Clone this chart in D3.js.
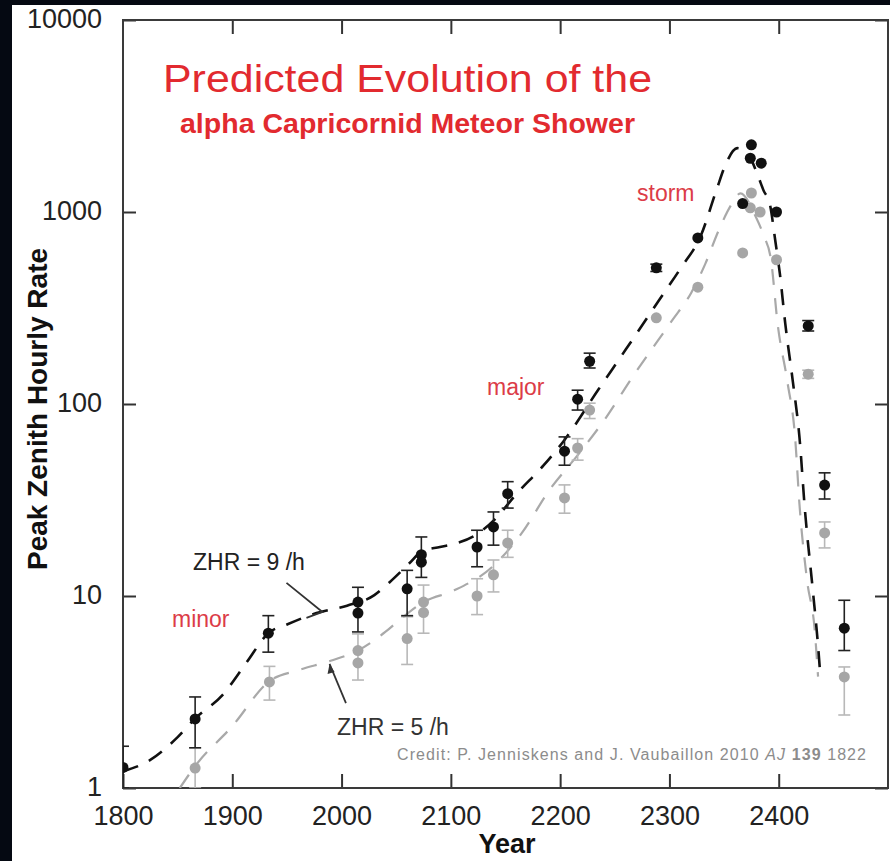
<!DOCTYPE html>
<html>
<head>
<meta charset="utf-8">
<script src="https://cdn.jsdelivr.net/npm/d3@7/dist/d3.min.js"></script>
<style>
  body { margin: 0; background: #fff; }
  svg { display: block; font-family: "Liberation Sans", Arial, sans-serif; }
</style>
</head>
<body>
<svg id="chart" width="890" height="861"></svg>
<script>
// tick values
var xTicks = [1800, 1900, 2000, 2100, 2200, 2300, 2400];
var yTicks = [1, 10, 100, 1000, 10000];

// ZHR = 9/h model points (black)
var blackYear = [1800, 1866, 1933, 2015, 2015, 2060, 2073, 2073, 2124, 2139, 2152, 2204, 2216, 2227, 2288, 2326, 2375, 2374, 2384, 2367, 2398, 2427, 2442, 2460];
var blackZHR  = [1.28, 2.29, 6.4, 9.3, 8.15, 10.9, 16.4, 15.0, 18.0, 22.9, 34.1, 56.8, 106, 167, 512, 733, 2237, 1905, 1795, 1106, 1000, 255, 37.8, 6.8];
var blackLo   = [1.0, 1.62, 5.1, 6.5, null, 7.9, 12.5, null, 14.2, 18.4, 28.7, 48, 93, 154, 490, null, null, null, null, null, null, 240, 32, 5.2];
var blackHi   = [1.65, 2.98, 7.9, 11.1, null, 13.6, 20.3, null, 22.0, 27.4, 39.4, 67.4, 118, 184, 535, null, null, null, null, null, null, 272, 43.8, 9.5];

// ZHR = 5/h model points (gray)
var grayYear = [1866, 1934, 2015, 2015, 2060, 2075, 2075, 2124, 2139, 2152, 2204, 2216, 2227, 2288, 2326, 2375, 2374, 2383, 2367, 2398, 2427, 2442, 2460];
var grayZHR  = [1.27, 3.57, 5.2, 4.48, 6.0, 9.3, 8.2, 10.0, 12.9, 18.9, 32.4, 59, 93, 281, 406, 1256, 1051, 1000, 612, 564, 143, 21.3, 3.79];
var grayLo   = [1.0, 2.87, null, 3.65, 4.4, 6.4, null, 8.0, 10.5, 15.9, 27, 51, 84, null, null, null, null, null, null, null, 136, 17.8, 2.4];
var grayHi   = [1.62, 4.3, null, 6.35, 7.8, 11.4, null, 12.3, 15.4, 22, 37.9, 66, 101, null, null, null, null, null, null, null, 150, 24.3, 4.27];

// dashed trend curves
var curve9Year = [1800, 1825, 1850, 1866, 1891, 1913, 1933, 1950, 1977, 2005, 2030, 2044, 2062, 2073, 2090, 2105, 2124, 2140, 2160, 2185, 2204, 2235, 2260, 2290, 2310, 2329, 2343, 2352, 2362, 2372, 2380, 2386, 2392, 2397, 2401, 2406, 2413, 2419, 2424, 2431, 2436, 2438];
var curve9ZHR  = [1.22, 1.4, 1.84, 2.3, 3.05, 4.5, 6.4, 7.1, 8.15, 8.9, 10.1, 11.8, 14.8, 17, 18, 18.8, 21, 25, 34, 48, 65, 119, 192, 344, 507, 760, 1300, 1800, 2150, 2000, 1600, 1300, 1090, 700, 480, 262, 130, 67, 28, 11, 5.5, 3.9];
var curve5Year = [1852, 1866, 1900, 1934, 1960, 1990, 2015, 2040, 2053, 2075, 2103, 2138, 2165, 2190, 2217, 2242, 2265, 2302, 2320, 2333, 2345, 2357, 2365, 2379, 2386, 2393, 2399, 2408, 2415, 2419, 2426, 2433, 2436];
var curve5ZHR  = [1.0, 1.3, 2.1, 3.6, 4.1, 4.6, 5.2, 6.5, 7.5, 9.3, 10.7, 14.2, 21.3, 35.5, 55, 85, 135, 270, 380, 540, 800, 1100, 1250, 944, 760, 560, 262, 130, 67, 30, 12, 6.6, 3.8];

// annotation arrows [fromYear, fromZHR, toYear, toZHR]
var arrow9 = [1949.6, 11.7, 1982.5, 8.26];
var arrow5 = [2004, 2.77, 1989, 4.43];

var svg = d3.select("#chart");
var margin = {top: 20, left: 123},
    width = 765,
    height = 768;

var x = d3.scaleLinear().domain([1800, 2500]).range([0, width]);
var y = d3.scaleLog().domain([1, 10000]).range([height, 0]);

svg.append("rect").attr("width", 890).attr("height", 861).attr("fill", "#fff");

var g = svg.append("g")
    .attr("transform", "translate(" + margin.left + "," + margin.top + ")");

g.append("clipPath").attr("id", "clip")
  .append("rect").attr("width", width).attr("height", height);

// axes, ticks point inward
var fontAxis = "27px";
var xb = g.append("g").attr("transform", "translate(0," + height + ")")
    .call(d3.axisBottom(x).tickValues(xTicks).tickSize(-14).tickPadding(18).tickFormat(d3.format("d")));
var yl = g.append("g")
    .call(d3.axisLeft(y).tickValues(yTicks).tickSize(-13).tickPadding(21).tickFormat(d3.format("d")));
g.append("g").call(d3.axisTop(x).tickValues(xTicks.slice(1)).tickSize(-14).tickFormat(""));
g.append("g").attr("transform", "translate(" + width + ",0)")
    .call(d3.axisRight(y).tickValues(yTicks).tickSize(-13).tickFormat(""));

g.selectAll(".domain").remove();
g.selectAll(".tick line").attr("stroke", "#333").attr("stroke-width", 2);
g.selectAll(".tick text").attr("font-size", fontAxis).attr("fill", "#222")
    .attr("font-family", "'Liberation Sans', Arial, sans-serif");
yl.selectAll(".tick text").attr("dy", "0.27em");

g.append("rect").attr("width", width).attr("height", height)
    .attr("fill", "none").attr("stroke", "#3a3a3a").attr("stroke-width", 2);

var plot = g.append("g").attr("clip-path", "url(#clip)");

// trend lines
var line = d3.line()
    .x(function(d) { return x(d[0]); })
    .y(function(d) { return y(d[1]); })
    .curve(d3.curveMonotoneX);

plot.append("path")
    .datum(d3.zip(curve5Year, curve5ZHR))
    .attr("d", line).attr("fill", "none")
    .attr("stroke", "#a9a9a9").attr("stroke-width", 2.2)
    .attr("stroke-dasharray", "16,13");

plot.append("path")
    .datum(d3.zip(curve9Year, curve9ZHR))
    .attr("d", line).attr("fill", "none")
    .attr("stroke", "#111").attr("stroke-width", 2.6)
    .attr("stroke-dasharray", "16,12");

// error bars + dots
function drawSeries(years, vals, lo, hi, color, barColor) {
  var data = years.map(function(yr, i) {
    return {year: yr, v: vals[i], lo: lo[i], hi: hi[i]};
  });
  var withErr = data.filter(function(d) { return d.lo != null; });
  var eb = plot.append("g").attr("stroke", barColor).attr("stroke-width", 1.6);
  eb.selectAll(".v").data(withErr).enter().append("line")
      .attr("x1", function(d) { return x(d.year); })
      .attr("x2", function(d) { return x(d.year); })
      .attr("y1", function(d) { return y(d.lo); })
      .attr("y2", function(d) { return y(d.hi); });
  ["lo", "hi"].forEach(function(k) {
    eb.selectAll(".c" + k).data(withErr).enter().append("line")
        .attr("x1", function(d) { return x(d.year) - 6; })
        .attr("x2", function(d) { return x(d.year) + 6; })
        .attr("y1", function(d) { return y(d[k]); })
        .attr("y2", function(d) { return y(d[k]); });
  });
  plot.append("g").selectAll("circle").data(data).enter().append("circle")
      .attr("cx", function(d) { return x(d.year); })
      .attr("cy", function(d) { return y(d.v); })
      .attr("r", 5.5)
      .attr("fill", color);
}
drawSeries(grayYear, grayZHR, grayLo, grayHi, "#a6a6a6", "#b8b8b8");
drawSeries(blackYear, blackZHR, blackLo, blackHi, "#111", "#222");

// annotation arrows
var ann = g.append("g").attr("stroke", "#333").attr("stroke-width", 1.8).attr("fill", "none");
ann.append("path").attr("d", function() {
  var x0 = x(arrow9[0]), y0 = y(arrow9[1]), x1 = x(arrow9[2]), y1 = y(arrow9[3]);
  return "M" + x0 + "," + y0 + "L" + x1 + "," + y1 + "L" + (x1 - 16) + "," + (y1 + 6);
});
ann.append("line")
    .attr("x1", x(arrow5[0])).attr("y1", y(arrow5[1]))
    .attr("x2", x(arrow5[2])).attr("y2", y(arrow5[3]));
var ax = x(arrow5[2]), ay = y(arrow5[3]);
g.append("path")
    .attr("d", "M" + ax + "," + ay + "L" + (ax - 2) + "," + (ay + 10) + "L" + (ax + 5) + "," + (ay + 8) + "Z")
    .attr("fill", "#333");

// texts
svg.append("text").attr("x", 163).attr("y", 92)
    .attr("font-size", "39px").attr("fill", "#e22a2f")
    .attr("textLength", 489).attr("lengthAdjust", "spacingAndGlyphs")
    .text("Predicted Evolution of the");
svg.append("text").attr("x", 180).attr("y", 133)
    .attr("font-size", "27px").attr("font-weight", "bold").attr("fill", "#e22a2f")
    .attr("textLength", 455).attr("lengthAdjust", "spacingAndGlyphs")
    .text("alpha Capricornid Meteor Shower");

var redLabels = [["storm", 637, 201], ["major", 487, 395], ["minor", 172, 627]];
redLabels.forEach(function(l) {
  svg.append("text").attr("x", l[1]).attr("y", l[2])
      .attr("font-size", "23px").attr("fill", "#dc3c48").text(l[0]);
});

svg.append("text").attr("x", 193).attr("y", 570)
    .attr("font-size", "23px").attr("fill", "#222").text("ZHR = 9 /h");
svg.append("text").attr("x", 337).attr("y", 735)
    .attr("font-size", "23px").attr("fill", "#333").text("ZHR = 5 /h");

var credit = svg.append("text").attr("x", 397).attr("y", 760)
    .attr("font-size", "16px").attr("fill", "#8c8c8c")
    .attr("textLength", 469).attr("lengthAdjust", "spacing");
credit.append("tspan").text("Credit: P. Jenniskens and J. Vaubaillon 2010 ");
credit.append("tspan").attr("font-style", "italic").text("AJ");
credit.append("tspan").text(" ");
credit.append("tspan").attr("font-weight", "bold").text("139");
credit.append("tspan").text(" 1822");

svg.append("text").attr("x", 507).attr("y", 853)
    .attr("text-anchor", "middle").attr("font-size", "27px").attr("font-weight", "bold")
    .attr("fill", "#111").text("Year");
svg.append("text").attr("transform", "translate(47,409) rotate(-90)")
    .attr("text-anchor", "middle").attr("font-size", "28px").attr("font-weight", "bold")
    .attr("fill", "#111").text("Peak Zenith Hourly Rate");

// dark frame edges of the original picture
svg.append("rect").attr("x", 0).attr("y", 0).attr("width", 12).attr("height", 861).attr("fill", "#050912");
svg.append("rect").attr("x", 0).attr("y", 0).attr("width", 890).attr("height", 5).attr("fill", "#050912");
</script>
</body>
</html>
